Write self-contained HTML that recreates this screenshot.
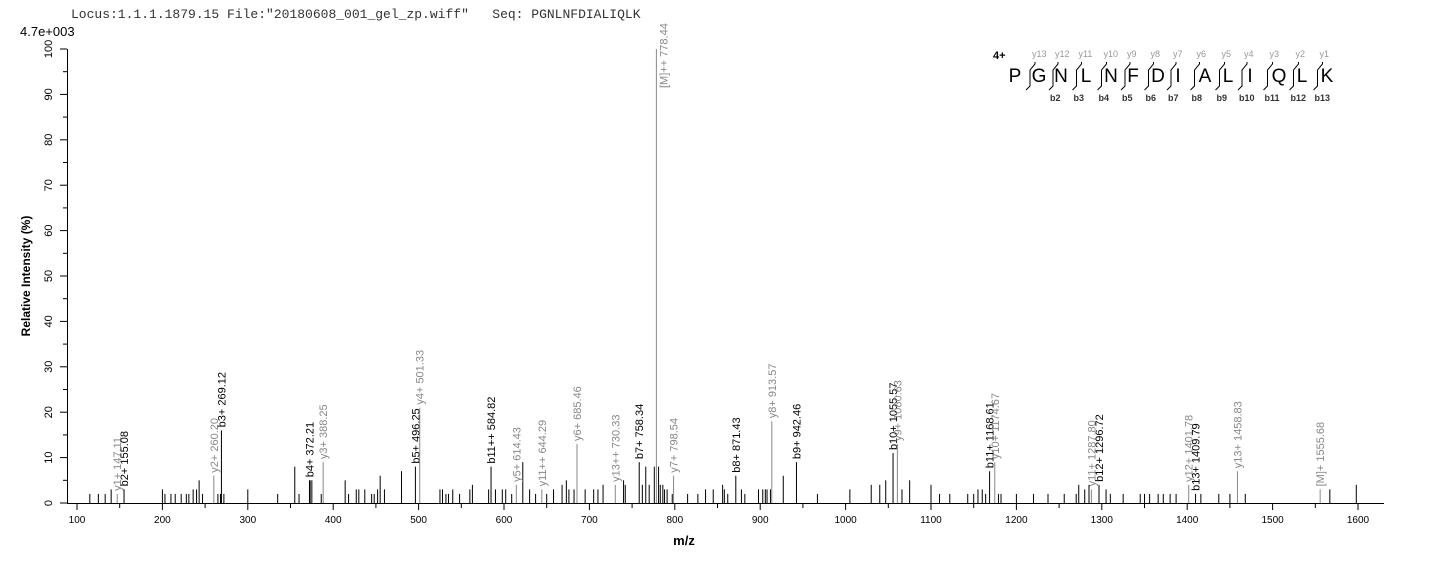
<!DOCTYPE html>
<html><head><meta charset="utf-8"><style>
body{margin:0;background:#fff;width:1436px;height:562px;overflow:hidden}
svg{display:block}
text{font-family:"Liberation Sans",Arial,sans-serif}
</style></head><body>
<svg id="s" width="1436" height="562" xmlns="http://www.w3.org/2000/svg">
<text x="71" y="18" style="font-family:'Liberation Mono',monospace;white-space:pre" font-size="13" fill="#333">Locus:1.1.1.1879.15 File:"20180608_001_gel_zp.wiff"   Seq: PGNLNFDIALIQLK</text>
<text x="20" y="36" font-size="13" fill="#000">4.7e+003</text>
<text transform="translate(30,276) rotate(-90)" text-anchor="middle" font-size="12" font-weight="bold">Relative   Intensity (%)</text>
<text x="684" y="545" text-anchor="middle" font-size="13" font-weight="bold">m/z</text>
<g id="ax" stroke="#000" stroke-width="1"></g>
<g id="pk"></g>
<g id="seq" font-size="19" fill="#000"></g>
</svg>
<script>
var NS="http://www.w3.org/2000/svg";
function X(m){return 77+(m-100)*0.854;}
function Y(h){return 503-h*4.54;}
function el(p,t,a,txt){var e=document.createElementNS(NS,t);for(var k in a)e.setAttribute(k,a[k]);if(txt!==undefined)e.textContent=txt;p.appendChild(e);return e;}
var ax=document.getElementById('ax'),s=document.getElementById('s');
el(ax,'line',{x1:67,y1:503.5,x2:1384,y2:503.5});
el(ax,'line',{x1:67.5,y1:49,x2:67.5,y2:504});
for(var v=0;v<=100;v+=5){var y=Y(v);el(ax,'line',{x1:v%10?63:60,y1:y,x2:67,y2:y});
 if(v%10==0)el(s,'text',{transform:'translate(52,'+y+') rotate(-90)','text-anchor':'middle','font-size':'11'},v);}
for(var m=100;m<=1650;m+=50){var x=X(m);if(x>1384)break;el(ax,'line',{x1:x,y1:503,x2:x,y2:m%100?508:510});
 if(m%100==0)el(s,'text',{x:x,y:523,'text-anchor':'middle','font-size':'10'},m);}
var small=[[115,2],[125,2],[133,2],[140,3],[200,3],[203,2],[210,2],[215,2],[222,2],[228,2],[231,2],[236,3],[240,3],[243,5],[247,2],[265,2],[268,2],[272,2],[300,3],[335,2],[355,8],[360,2],[373,5],[375,5],[386,2],[414,5],[418,2],[427,3],[430,3],[437,3],[445,2],[448,2],[452,3],[455,6],[460,3],[480,7],[525,3],[528,3],[532,2],[535,2],[540,3],[548,2],[560,3],[563,4],[582,3],[590,3],[598,3],[602,3],[609,2],[622,9],[630,3],[637,2],[650,2],[658,3],[668,4],[673,5],[676,3],[682,3],[695,3],[705,3],[710,3],[716,4],[740,5],[742,4],[762,4],[766,8],[770,4],[776,8],[781,8],[783,4],[786,4],[788,3],[791,3],[797,2],[815,2],[827,2],[836,3],[845,3],[856,4],[858,3],[862,2],[878,3],[882,2],[898,3],[903,3],[906,3],[908,3],[912,3],[927,6],[967,2],[1005,3],[1030,4],[1040,4],[1047,5],[1066,3],[1075,5],[1100,4],[1110,2],[1122,2],[1143,2],[1150,2],[1155,3],[1160,3],[1164,2],[1179,2],[1182,2],[1200,2],[1220,2],[1237,2],[1256,2],[1270,2],[1273,4],[1280,3],[1285,4],[1305,3],[1310,2],[1325,2],[1345,2],[1350,2],[1356,2],[1366,2],[1372,2],[1380,2],[1387,2],[1416,2],[1437,2],[1450,2],[1468,2],[1567,3],[1598,4]];
var pk=document.getElementById('pk');
small.forEach(function(p){var x=X(p[0]);el(pk,'line',{x1:x,x2:x,y1:503,y2:Y(p[1]),stroke:'#000','stroke-width':1});});
var lab=[["y1+ 147.11",147.11,2,1],["b2+ 155.08",155.08,3,0],["y2+ 260.20",260.2,6,1],["b3+ 269.12",269.12,16,0],["b4+ 372.21",372.21,5,0],["y3+ 388.25",388.25,9,1],["b5+ 496.25",496.25,8,0],["y4+ 501.33",501.33,21,1],["b11++ 584.82",584.82,8,0],["y5+ 614.43",614.43,4,1],["y11++ 644.29",644.29,3,1],["y6+ 685.46",685.46,13,1],["y13++ 730.33",730.33,4,1],["b7+ 758.34",758.34,9,0],["[M]++ 778.44",778.44,100,1],["y7+ 798.54",798.54,6,1],["b8+ 871.43",871.43,6,0],["y8+ 913.57",913.57,18,1],["b9+ 942.46",942.46,9,0],["b10+ 1055.57",1055.57,11,0],["y9+ 1060.63",1060.63,13,1],["b11+ 1168.61",1168.61,7,0],["y10+ 1174.67",1174.67,9,1],["y11+ 1287.80",1287.8,3,1],["b12+ 1296.72",1296.72,4,0],["y12+ 1401.78",1401.78,4,1],["b13+ 1409.79",1409.79,2,0],["y13+ 1458.83",1458.83,7,1],["[M]+ 1555.68",1555.68,3,1]];
lab.forEach(function(p){var x=X(p[1]),c=p[3]?'#888':'#000',y=Y(p[2]);
 el(pk,'line',{x1:x,x2:x,y1:503,y2:y,stroke:c,'stroke-width':1});
 if(p[2]>=90) el(pk,'text',{transform:'translate('+(x+11)+',88) rotate(-90)','font-size':'11',fill:c},p[0]);
 else el(pk,'text',{transform:'translate('+(x+4)+','+(y-3)+') rotate(-90)','font-size':'11',fill:c},p[0]);});
var sq=document.getElementById('seq'),letters="PGNLNFDIALIQLK".split('');
var xs=[1015,1039,1061,1086,1111,1133,1158,1178,1205,1228,1250,1279,1302,1327];
el(sq,'text',{x:993,y:59,'font-size':'11','font-weight':'bold'},'4+');
letters.forEach(function(c,i){el(sq,'text',{x:xs[i],y:82,'text-anchor':'middle'},c);
 if(i>0){var bx=(xs[i-1]+xs[i])/2+3;
  el(sq,'path',{d:'M'+(bx+5)+' 62 L'+(bx+5)+' 64 L'+bx+' 70 L'+bx+' 86 L'+(bx-4)+' 90',fill:'none',stroke:'#000','stroke-width':1});
  el(sq,'text',{x:bx+2,y:57,'font-size':'9',fill:'#999'},'y'+(14-i));
  if(i>1)el(sq,'text',{x:bx-3,y:101,'font-size':'9','font-weight':'bold',fill:'#333'},'b'+i);}});
</script>
</body></html>
